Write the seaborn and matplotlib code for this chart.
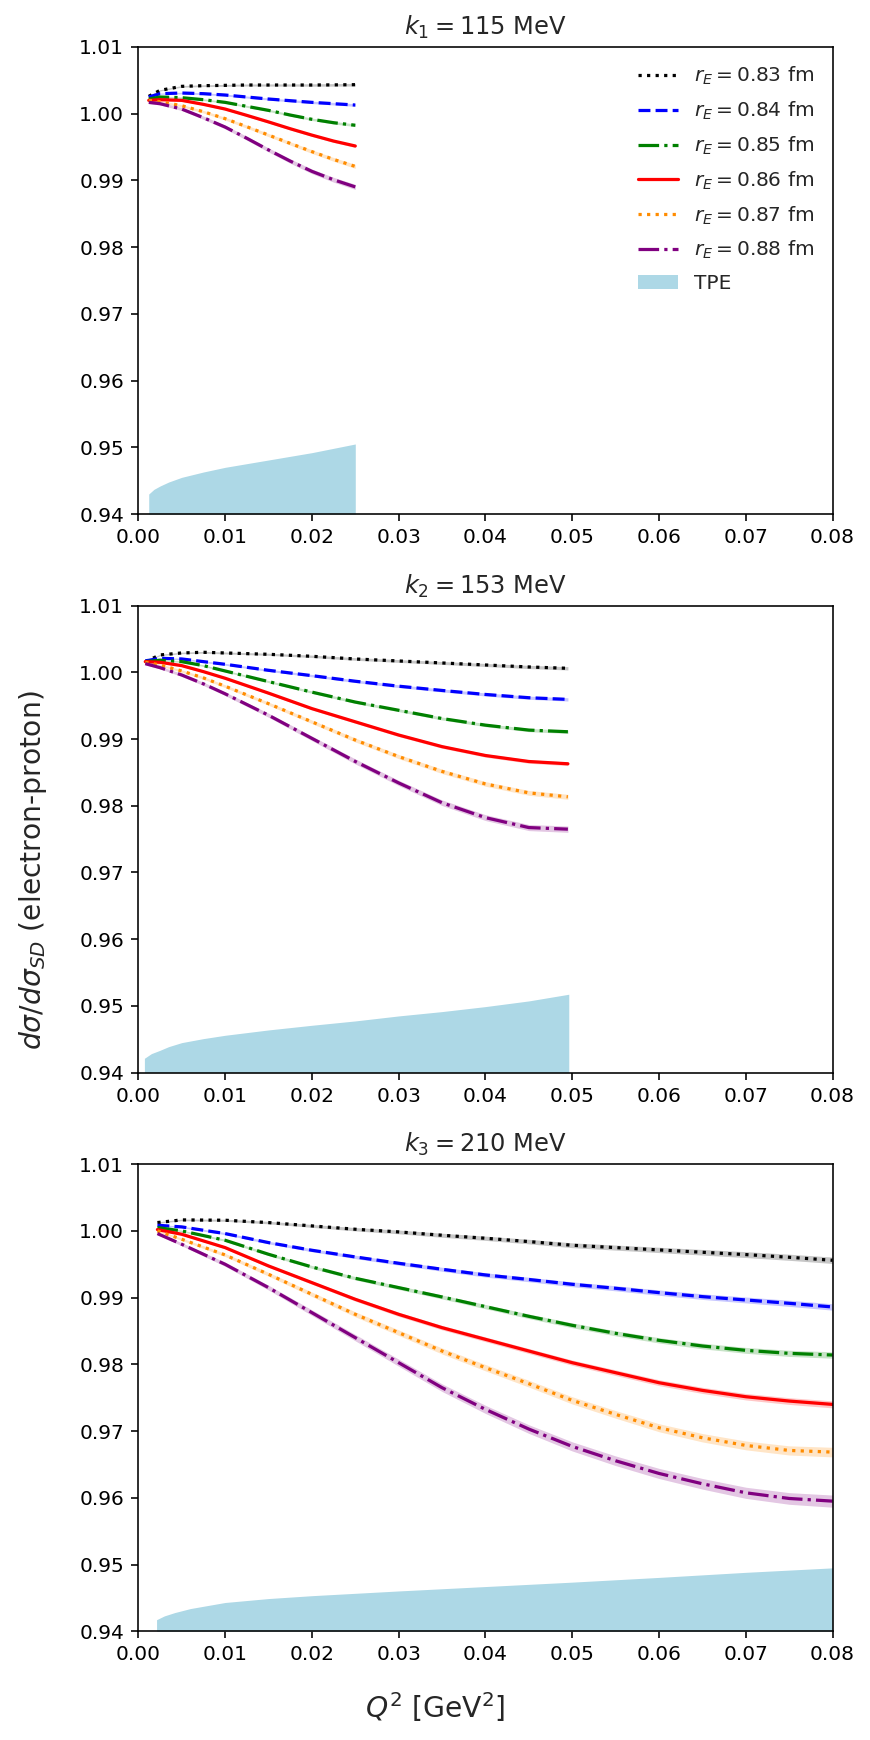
import numpy as np
import pandas as pd
import matplotlib
matplotlib.use("Agg")
import matplotlib.pyplot as plt
import seaborn as sns

# Radii and styles
radii = [0.83, 0.84, 0.85, 0.86, 0.87, 0.88]
colors = ["black", "blue", "green", "red", "darkorange", "purple"]
styles = [":", "--", "-.", "-", ":", "-."]
band_scale = [1.0, 1.0, 1.0, 1.1, 1.5, 1.9]

titles = [r"$k_1 = 115$ MeV", r"$k_2 = 153$ MeV", r"$k_3 = 210$ MeV"]

# Panel 1 (k1 = 115 MeV)
q2_k1 = [0.0012, 0.0025, 0.005, 0.0075, 0.01, 0.0125, 0.015, 0.0175, 0.02,
         0.0225, 0.025]
ratio_k1 = [
    [1.0026, 1.0035, 1.0041, 1.0042, 1.00425, 1.0043, 1.0043, 1.0043, 1.0043,
     1.00432, 1.00435],
    [1.0025, 1.0030, 1.0031, 1.0030, 1.0028, 1.0025, 1.0022, 1.00195, 1.0017,
     1.0015, 1.0013],
    [1.0022, 1.0025, 1.0024, 1.0021, 1.0017, 1.0011, 1.0005, 0.9998, 0.99916,
     0.99865, 0.99827],
    [1.0020, 1.0021, 1.0020, 1.0014, 1.0007, 0.99975, 0.99877, 0.99775, 0.99679,
     0.9959, 0.99516],
    [1.0020, 1.0018, 1.0012, 1.0003, 0.99926, 0.99805, 0.9968, 0.99555, 0.99432,
     0.99315, 0.9921],
    [1.0017, 1.0015, 1.0007, 0.9994, 0.9980, 0.99632, 0.99457, 0.9929, 0.99136,
     0.9901, 0.98903],
]
band_k1 = [0.0001, 0.0001, 0.00012, 0.00013, 0.00014, 0.00015, 0.00016,
           0.00017, 0.00018, 0.00019, 0.0002]
tpe_q2_k1 = [0.0012, 0.0018, 0.0025, 0.0035, 0.005, 0.0075, 0.01, 0.015, 0.02,
             0.025]
tpe_k1 = [0.9430, 0.9437, 0.9442, 0.9448, 0.9455, 0.9463, 0.9470, 0.9481,
          0.9492, 0.9505]

# Panel 2 (k2 = 153 MeV)
q2_k2 = [0.0008, 0.0025, 0.005, 0.0075, 0.01, 0.015, 0.02, 0.025, 0.03,
         0.035, 0.04, 0.045, 0.0495]
ratio_k2 = [
    [1.0016, 1.0026, 1.0029, 1.0030, 1.0029, 1.0027, 1.0024, 1.0020, 1.0017,
     1.0014, 1.0011, 1.0008, 1.0006],
    [1.0017, 1.0021, 1.0020, 1.0016, 1.0012, 1.0003, 0.9995, 0.99866, 0.99792,
     0.99728, 0.99668, 0.99619, 0.99594],
    [1.0016, 1.0018, 1.0016, 1.0010, 1.0002, 0.99861, 0.99703, 0.99554, 0.99431,
     0.99307, 0.99208, 0.99134, 0.99109],
    [1.0016, 1.0015, 1.0010, 1.0001, 0.99911, 0.99688, 0.99456, 0.99258, 0.9906,
     0.98886, 0.98753, 0.98663, 0.98629],
    [1.0015, 1.0011, 1.0002, 0.99916, 0.99792, 0.9953, 0.99258, 0.98985, 0.98737,
     0.98515, 0.98327, 0.98193, 0.98134],
    [1.0013, 1.0007, 0.9996, 0.99827, 0.99678, 0.99357, 0.9901, 0.98664, 0.98342,
     0.98045, 0.97822, 0.97673, 0.97649],
]
band_k2 = [0.0001, 0.0001, 0.00012, 0.00013, 0.00014, 0.00016, 0.00018, 0.0002,
           0.00021, 0.00022, 0.00023, 0.00024, 0.00025]
tpe_q2_k2 = [0.0007, 0.0015, 0.0025, 0.0035, 0.005, 0.0075, 0.01, 0.015, 0.02,
             0.025, 0.03, 0.035, 0.04, 0.045, 0.0496]
tpe_k2 = [0.94215, 0.94285, 0.94335, 0.9439, 0.9445, 0.9451, 0.9456, 0.9464,
          0.9471, 0.94775, 0.9485, 0.94915, 0.9499, 0.95075, 0.95175]

# Panel 3 (k3 = 210 MeV)
q2_k3 = [0.0022, 0.005, 0.01, 0.015, 0.02, 0.025, 0.03, 0.035, 0.04, 0.045,
         0.05, 0.055, 0.06, 0.065, 0.07, 0.075, 0.08]
ratio_k3 = [
    [1.00125, 1.00165, 1.0016, 1.00125, 1.00075, 1.00025, 0.99985, 0.99935,
     0.9989, 0.9984, 0.99785, 0.9975, 0.99715, 0.9968, 0.99645, 0.99605, 0.9956],
    [1.00085, 1.0006, 0.9996, 0.99825, 0.9971, 0.9961, 0.99515, 0.99425,
     0.9934, 0.99272, 0.9920, 0.9914, 0.99075, 0.99015, 0.98965, 0.98915, 0.9886],
    [1.0005, 1.0000, 0.9986, 0.9965, 0.9946, 0.9929, 0.9915, 0.9901,
     0.98865, 0.9872, 0.98585, 0.98465, 0.9836, 0.98275, 0.9821, 0.98165, 0.9814],
    [1.0002, 0.9995, 0.9975, 0.99475, 0.99225, 0.98975, 0.9875, 0.9855,
     0.98375, 0.982, 0.98025, 0.97875, 0.97725, 0.9761, 0.97515, 0.9745, 0.9740],
    [1.0000, 0.99875, 0.9964, 0.9935, 0.9905, 0.9875, 0.98475, 0.982,
     0.9795, 0.9771, 0.9746, 0.9725, 0.9705, 0.969, 0.96785, 0.9671, 0.96685],
    [0.9996, 0.998, 0.995, 0.9915, 0.98775, 0.984, 0.98025, 0.9765,
     0.97325, 0.9703, 0.9677, 0.96555, 0.96365, 0.9621, 0.96075, 0.9599, 0.9595],
]
band_k3 = [0.0001, 0.00012, 0.00016, 0.00019, 0.00022, 0.00025, 0.00028, 0.0003,
           0.00032, 0.00034, 0.00036, 0.00038, 0.0004, 0.00042, 0.00044,
           0.00046, 0.00048]
tpe_q2_k3 = [0.0021, 0.003, 0.0042, 0.006, 0.01, 0.015, 0.02, 0.03, 0.04, 0.05,
             0.06, 0.07, 0.08]
tpe_k3 = [0.94173, 0.9423, 0.9428, 0.9434, 0.94431, 0.9449, 0.94533, 0.94604,
          0.9467, 0.94736, 0.94807, 0.94883, 0.9495]

panels = [
    (q2_k1, ratio_k1, band_k1, tpe_q2_k1, tpe_k1),
    (q2_k2, ratio_k2, band_k2, tpe_q2_k2, tpe_k2),
    (q2_k3, ratio_k3, band_k3, tpe_q2_k3, tpe_k3),
]

sns.set_style("ticks")
plt.rcParams['font.family'] = ['DejaVu Sans']

fig, axes = plt.subplots(3, 1, figsize=(6, 12), dpi=145)
fig.subplots_adjust(left=0.159, right=0.957, top=0.973, bottom=0.0625,
                    hspace=0.196)

for i, ax in enumerate(axes):
    q2, ratios, band, tq2, tpe = panels[i]
    for j, r in enumerate(radii):
        df = pd.DataFrame({'Q2': q2, 'ratio': ratios[j]})
        lo = np.array(ratios[j]) - np.array(band) * band_scale[j]
        hi = np.array(ratios[j]) + np.array(band) * band_scale[j]
        ax.fill_between(q2, lo, hi, color=colors[j], alpha=0.22, linewidth=0)
        sns.lineplot(data=df, x='Q2', y='ratio', ax=ax, color=colors[j],
                     linestyle=styles[j], linewidth=1.6,
                     label=rf"$r_E = {r:.2f}$ fm")
    ax.fill_between(tq2, 0.94, tpe, color='lightblue', linewidth=0, label='TPE')
    ax.set_xlim(0, 0.08)
    ax.set_ylim(0.94, 1.01)
    ax.set_xticks(np.arange(0, 0.081, 0.01))
    ax.set_xticklabels([f"{v:.2f}" for v in np.arange(0, 0.081, 0.01)])
    ax.set_yticks(np.arange(0.94, 1.0101, 0.01))
    ax.set_yticklabels([f"{v:.2f}" for v in np.arange(0.94, 1.0101, 0.01)])
    ax.set_xlabel('')
    ax.set_ylabel('')
    ax.set_title(titles[i], fontsize=12)
    for s in ax.spines.values():
        s.set_visible(True)
        s.set_color('black')
        s.set_linewidth(0.8)
    ax.tick_params(direction='out', length=3.5, width=0.8, colors='black',
                   labelsize=10)
    if i == 0:
        ax.legend(loc='upper right', frameon=False, fontsize=10,
                  labelspacing=0.62)
    else:
        ax.get_legend().remove()

fig.supylabel(r"$d\sigma/d\sigma_{SD}$ (electron-proton)", fontsize=14, x=0.02)
fig.supxlabel(r"$Q^2$ [GeV$^2$]", fontsize=14, y=0.009)

fig.savefig('out.png', dpi=145)
